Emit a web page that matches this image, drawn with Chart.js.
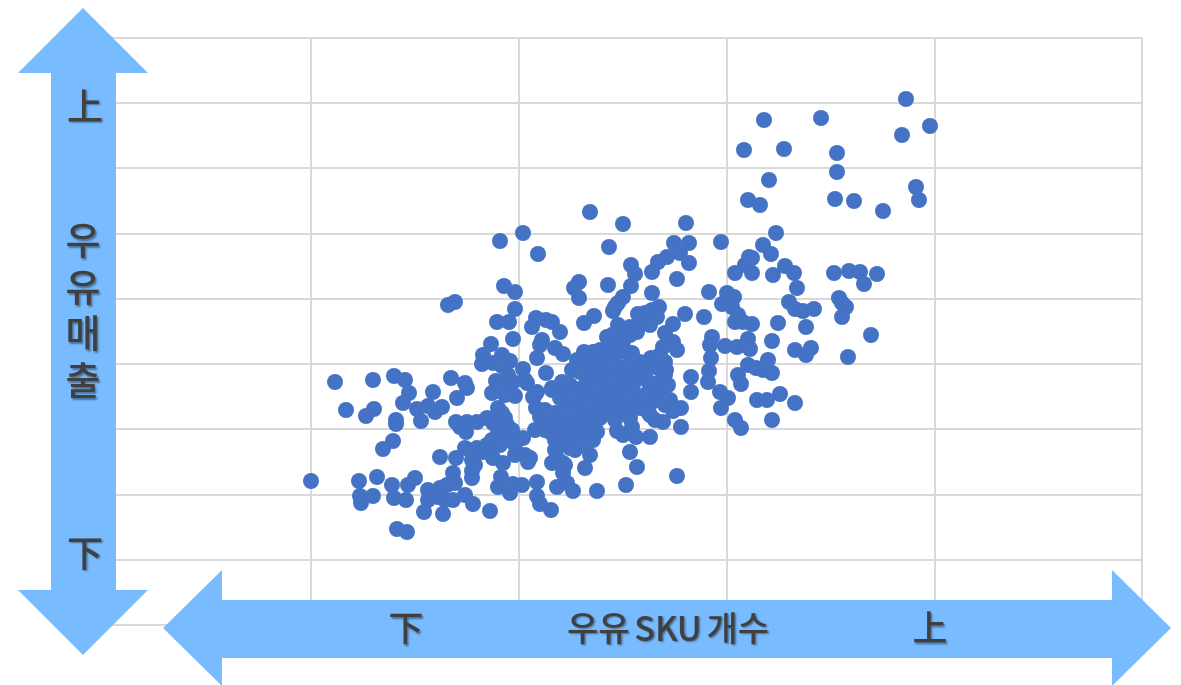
<!DOCTYPE html>
<html lang="ko">
<head>
<meta charset="utf-8">
<title>우유 SKU 개수 / 우유 매출</title>
<script src="https://cdn.jsdelivr.net/npm/chart.js@4"></script>
<style>
    html, body { margin: 0; padding: 0; background: #fff; overflow: hidden; }
    canvas { display: block; }
</style>
</head>
<body>
<canvas id="grafico" width="1181" height="685"></canvas>
<script>
// Values, on the chart's unlabelled axes
const skuCounts = [
    804, 662, 719, 828, 800, 642, 682, 735, 735, 667, 646, 658, 733, 752, 781, 814, 817,
    674, 619, 661, 669, 650, 643, 647, 633, 650, 671, 683, 692, 695, 732, 747, 758, 762, 775, 737, 740, 744, 740, 769, 746,
    607, 625, 632, 620, 630, 602, 636, 633, 641, 650, 676, 687, 693, 701, 712, 704, 610, 608, 646, 623, 635, 648, 670, 693, 704, 709,
    646, 654, 666, 661, 670, 609, 607, 606, 636, 639, 618, 626, 619, 655, 665, 678, 693, 633, 639, 670, 579, 589, 589, 575, 535, 528,
    488, 521, 584, 421, 398, 436, 507, 572, 587, 565, 556, 578, 587, 529, 533, 550, 575, 477, 472, 477, 506, 529, 550, 402, 413,
    521, 516, 513, 511, 413, 492, 482, 557, 550, 543, 536, 583, 571, 407, 395, 434, 444, 450, 430, 458, 516, 528, 546, 555,
    353, 346, 411, 440, 438, 389, 453, 461, 435, 381, 380, 400, 408, 391, 400, 421, 444, 349, 363, 406, 423, 394, 331, 365, 460, 450, 413, 390,
    505, 521, 535, 563, 571, 575, 561, 549, 530, 511, 511, 491, 482, 475, 500, 563, 556, 564, 518, 543, 531, 501, 483, 493, 510,
    571, 579, 561, 553, 515, 530, 534, 521, 548, 488, 491, 488, 495, 475, 561, 546, 531, 518, 505, 491, 478, 485, 498, 511, 523, 538, 551, 558, 545, 531, 518, 501, 488, 475, 473, 481, 470, 493, 468, 483,
    411, 425, 435, 450, 465, 431, 434, 438, 453, 463, 461, 433, 448, 465, 473, 453, 455, 450, 461,
    400, 396, 375, 385, 391, 405, 423, 413, 428, 401, 391, 381, 373, 393, 408, 421, 401, 385, 396, 410,
    233, 271, 292, 303, 307, 301, 355, 244, 272, 264, 315, 326, 333, 340, 319, 294, 294, 354, 365, 358, 364, 291, 281, 338, 354, 363, 375, 370,
    209, 257, 275, 290, 313, 306, 258, 259, 271, 292, 304, 295, 305, 322, 341, 326, 338, 326, 336, 345, 343, 351, 351, 353, 363, 371, 388, 370, 373, 370,
    483, 524, 495, 463, 461, 455, 465, 471, 435, 435, 438, 449, 399, 396, 408, 411, 420, 426,
    470, 488, 508, 523, 538, 553, 538, 523, 508, 495, 478, 468, 480, 493, 508, 523, 538, 550, 558, 566,
    498, 488, 468, 458, 473, 483, 498, 473, 480, 458, 448, 443, 390, 398, 413, 403,
    403, 398, 443, 453, 468, 458, 473, 478, 523, 528, 538, 548, 516, 433,
    548, 563, 543, 528, 563, 548, 528, 513, 568, 530, 558, 498, 510
];
const milkSales = [
    526, 505, 507, 499, 490, 475, 476, 472, 453, 445, 425, 420, 426, 424, 414, 438, 425,
    392, 383, 380, 371, 367, 360, 368, 352, 352, 350, 359, 352, 337, 352, 354, 353, 341, 351, 327, 322, 318, 308, 290, 268,
    333, 332, 328, 321, 318, 308, 310, 303, 303, 301, 302, 323, 316, 314, 316, 298, 288, 280, 286, 279, 278, 276, 284, 275, 270, 277,
    260, 257, 265, 255, 252, 267, 254, 243, 250, 241, 233, 227, 217, 225, 225, 231, 222, 205, 197, 205, 198, 233, 248, 149, 158, 173,
    413, 401, 402, 392, 384, 371, 378, 382, 382, 368, 363, 372, 362, 360, 351, 353, 346, 343, 337, 327, 340, 339, 332, 339, 333,
    328, 322, 318, 314, 316, 309, 302, 318, 315, 312, 311, 311, 301, 303, 303, 307, 305, 303, 298, 293, 300, 298, 303, 308,
    323, 320, 286, 285, 280, 281, 277, 271, 267, 270, 261, 270, 264, 262, 259, 256, 252, 247, 242, 250, 245, 244, 233, 237, 243, 237, 229, 232,
    288, 283, 293, 292, 283, 275, 278, 267, 272, 278, 268, 273, 273, 265, 265, 263, 257, 255, 258, 255, 253, 253, 250, 257, 251,
    214, 217, 203, 205, 194, 198, 188, 190, 188, 170, 185, 185, 193, 192, 227, 213, 217, 215, 212, 220, 215, 230, 230, 225, 230, 227, 233, 243, 245, 240, 240, 238, 243, 233, 222, 207, 205, 203, 177, 198,
    243, 242, 233, 235, 232, 228, 217, 208, 212, 220, 203, 195, 193, 190, 200, 175, 167, 162, 162,
    212, 217, 203, 207, 202, 200, 170, 170, 167, 162, 167, 173, 173, 182, 185, 187, 188, 180, 195, 195,
    243, 245, 249, 245, 232, 222, 227, 215, 216, 209, 216, 219, 213, 218, 204, 205, 201, 203, 203, 198, 193, 184, 176, 168, 167, 177, 177, 165,
    144, 144, 148, 140, 147, 140, 129, 122, 129, 127, 125, 96, 93, 113, 111, 135, 137, 125, 128, 140, 125, 125, 152, 142, 130, 121, 114, 154, 160, 147,
    157, 140, 134, 160, 152, 138, 142, 134, 143, 129, 121, 115, 148, 138, 132, 141, 140, 163,
    255, 263, 260, 273, 263, 260, 250, 250, 243, 247, 253, 240, 237, 235, 233, 220, 217, 223, 230, 240,
    220, 213, 215, 227, 230, 220, 207, 185, 193, 195, 205, 215, 185, 180, 180, 207,
    230, 240, 195, 185, 200, 180, 175, 180, 295, 290, 300, 300, 290, 230,
    240, 250, 230, 230, 220, 210, 207, 205, 225, 263, 270, 275, 290
];

const ejeXMax = 1040;
const ejeXTicks = [1, 209, 417, 625, 833, 1040];
const ejeYMax = 587;
const ejeYPaso = 587 / 9;

const colorPunto = '#4472C4';
const colorFlecha = '#79BBFF';
const colorTexto = '#404040';
const colorGrilla = '#D9D9D9';

// Double arrows and their labels sit on top of the plot
const flechaVertical = [[83, 8], [148, 73], [116, 73], [116, 590], [148, 590], [83, 655], [18, 590], [51, 590], [51, 73], [18, 73]];
const flechaHorizontal = [[163, 628], [222, 570], [222, 600], [1112, 600], [1112, 570], [1171, 628], [1112, 686], [1112, 658], [222, 658], [222, 686]];

const textos = [
    ['上', 85, 106, 36], ['下', 85, 553, 36],
    ['우', 83, 240, 38], ['유', 83, 287, 38], ['매', 83, 333, 38], ['출', 83, 380, 38],
    ['下', 406, 628, 35], ['우유 SKU 개수', 668, 628, 34], ['上', 930, 628, 35]
];

const flechasPlugin = {
    id: 'flechas',
    afterDraw(chart) {
        const ctx = chart.ctx;
        ctx.save();
        ctx.fillStyle = colorFlecha;
        [flechaVertical, flechaHorizontal].forEach(puntos => {
            ctx.beginPath();
            puntos.forEach(([x, y], i) => i ? ctx.lineTo(x, y) : ctx.moveTo(x, y));
            ctx.closePath();
            ctx.fill();
        });
        ctx.fillStyle = colorTexto;
        ctx.textAlign = 'center';
        ctx.textBaseline = 'middle';
        ctx.wordSpacing = '-3px';
        ctx.shadowColor = 'rgba(0, 0, 0, 0.4)';
        ctx.shadowOffsetX = 1.5;
        ctx.shadowOffsetY = 1.5;
        ctx.shadowBlur = 2;
        textos.forEach(([texto, x, y, size]) => {
            ctx.font = `500 ${size}px "Noto Sans CJK KR"`;
            ctx.fillText(texto, x, y);
        });
        ctx.restore();
    }
};

new Chart(document.getElementById('grafico').getContext('2d'), {
    type: 'scatter',
    data: {
        datasets: [{
            label: '우유 매출',
            data: skuCounts.map((x, i) => ({ x, y: milkSales[i] })),
            backgroundColor: colorPunto,
            borderColor: colorPunto,
            borderWidth: 0,
            pointRadius: 8,
        }]
    },
    options: {
        responsive: false,
        animation: false,
        layout: { padding: { left: 102, top: 38, right: 39, bottom: 60 } },
        plugins: { legend: { display: false }, tooltip: { enabled: false } },
        scales: {
            x: {
                type: 'linear',
                min: 0,
                max: ejeXMax,
                afterBuildTicks: axis => { axis.ticks = ejeXTicks.map(value => ({ value })); },
                ticks: { display: false },
                grid: { color: colorGrilla, lineWidth: 2, drawTicks: false },
                border: { display: false },
            },
            y: {
                type: 'linear',
                min: 0,
                max: ejeYMax,
                ticks: { display: false, stepSize: ejeYPaso },
                grid: { color: colorGrilla, lineWidth: 2, drawTicks: false },
                border: { display: false },
            }
        }
    },
    plugins: [flechasPlugin]
});
</script>
</body>
</html>
